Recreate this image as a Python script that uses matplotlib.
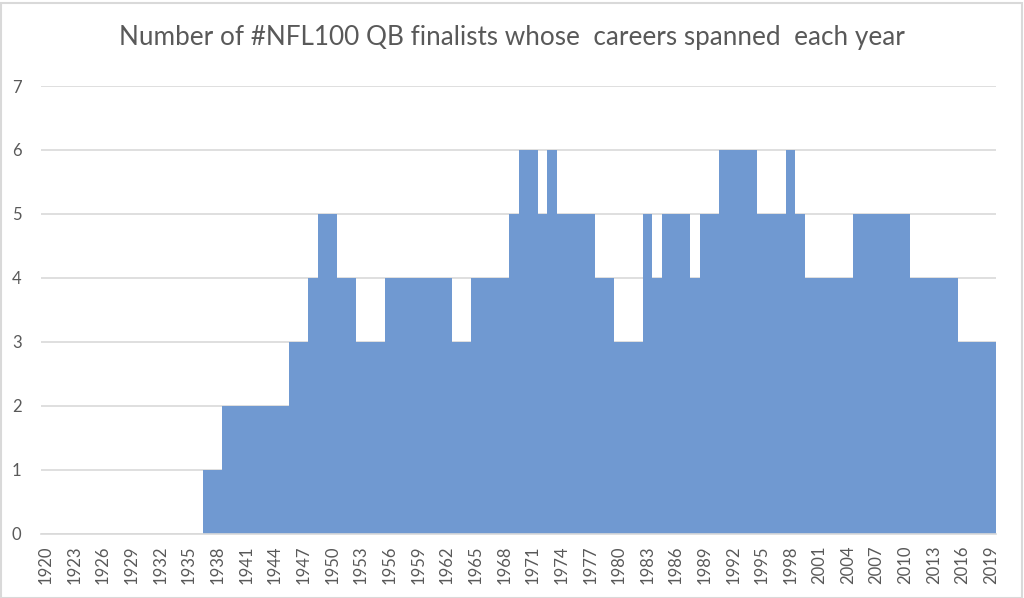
import matplotlib
matplotlib.use("Agg")
import matplotlib.pyplot as plt
from matplotlib.patches import Rectangle

plt.rcParams['font.family'] = ['Lato', 'DejaVu Sans']

years = list(range(1920, 2020))
counts = ([0] * 17 + [1] * 2 + [2] * 7 + [3] * 2 + [4] + [5] * 2 + [4] * 2 + [3] * 3 +
          [4] * 7 + [3] * 2 + [4] * 4 + [5] + [6] * 2 + [5] + [6] + [5] * 4 + [4] * 2 +
          [3] * 3 + [5] + [4] + [5] * 3 + [4] + [5] * 2 + [6] * 4 + [5] * 3 + [6] + [5] +
          [4] * 5 + [5] * 6 + [4] * 5 + [3] * 4)
tick_years = years[::3]
y_ticks = list(range(0, 8))
title = "Number of #NFL100 QB finalists whose  careers spanned  each year"

text_color = "#595959"
grid_color = "#D9D9D9"
bar_color = "#7099D1"

fig = plt.figure(figsize=(10.24, 5.98), dpi=100)
ax = fig.add_axes([41 / 1024, 1 - 533.5 / 598, (996 - 41) / 1024, (533.5 - 86) / 598])

x = list(range(len(years)))
ax.bar(x, counts, width=1.0, color=bar_color, edgecolor="none", zorder=2)

ax.set_xlim(-0.5, len(years) - 0.5)
ax.set_ylim(0, 7)
ax.set_yticks(y_ticks)
ax.set_yticklabels([str(v) for v in y_ticks])
ax.set_xticks([years.index(y) for y in tick_years])
ax.set_xticklabels([str(y) for y in tick_years], rotation=90)

ax.grid(axis="y", color=grid_color, linewidth=1.2, zorder=0)
ax.set_axisbelow(True)
for s in ["top", "right", "left"]:
    ax.spines[s].set_visible(False)
ax.spines["bottom"].set_color(grid_color)
ax.spines["bottom"].set_linewidth(1.2)
ax.spines["bottom"].set_zorder(3)
ax.tick_params(axis="both", length=0, colors=text_color, labelsize=12)
ax.tick_params(axis="y", pad=14)
ax.tick_params(axis="x", pad=9)

fig.text(0.5, 1 - 38 / 598, title, ha="center", va="center", fontsize=18.8, color=text_color)

fig.patches.append(Rectangle((0.5 / 1024, 0.5 / 598), 1 - 3 / 1024, 1 - 3 / 598,
                             transform=fig.transFigure, fill=False,
                             edgecolor=grid_color, linewidth=1.5))

fig.savefig("out.png", dpi=100, facecolor="white")
